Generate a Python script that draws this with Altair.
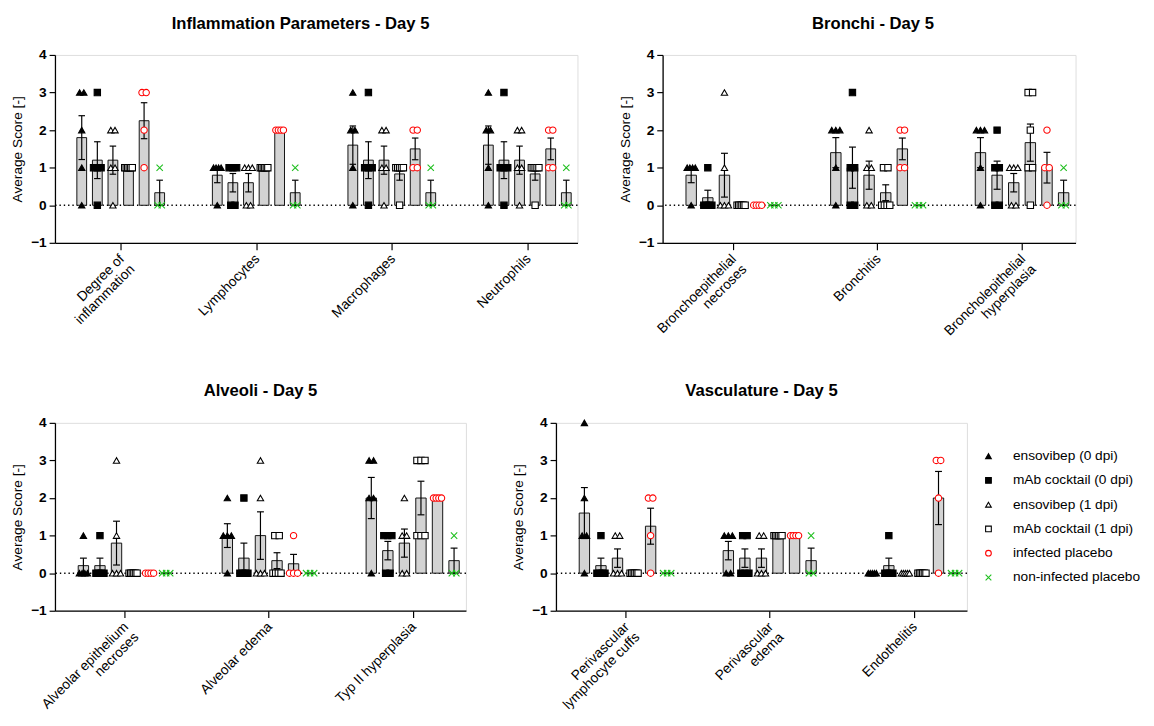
import altair as alt
import pandas as pd

FONT = "Liberation Sans"

groups = ["ensovibep (0 dpi)", "mAb cocktail (0 dpi)", "ensovibep (1 dpi)",
          "mAb cocktail (1 dpi)", "infected placebo", "non-infected placebo"]
group_shapes = ["triangle-up", "square", "triangle-up", "square", "circle",
                "M-1,-1L1,1M-1,1L1,-1"]
group_fills = ["black", "black", "white", "white", "white", "transparent"]
group_strokes = ["black", "black", "black", "black", "#ff0000", "#1fbf1f"]

# Individual scores per group, order: groups above
# Inflammation Parameters - Day 5
inflammation_categories = ["Degree of|inflammation", "Lymphocytes", "Macrophages", "Neutrophils"]
degree_of_inflammation = [[3, 3, 2, 1, 0], [3, 1, 1, 1, 0], [2, 2, 1, 1, 0], [1, 1, 1, 1, 1, 1], [3, 3, 2, 1], [1, 0, 0]]
lymphocytes = [[1, 1, 1, 1, 0], [1, 1, 1, 0, 0], [1, 1, 1, 0, 0], [1, 1, 1, 1, 1, 1], [2, 2, 2, 2], [1, 0, 0]]
macrophages = [[3, 2, 2, 1, 0], [3, 1, 1, 1, 0], [2, 2, 1, 1, 0], [1, 1, 1, 1, 1, 0], [2, 2, 1, 1], [1, 0, 0]]
neutrophils = [[3, 2, 2, 1, 0], [3, 1, 1, 1, 0], [2, 2, 1, 1, 0], [1, 1, 1, 1, 1, 0], [2, 2, 1, 1], [1, 0, 0]]

# Bronchi - Day 5
bronchi_categories = ["Bronchoepithelial|necroses", "Bronchitis", "Broncholepithelial|hyperplasia"]
bronchoepithelial_necroses = [[1, 1, 1, 1, 0], [1, 0, 0, 0, 0], [3, 1, 0, 0, 0], [0, 0, 0, 0, 0, 0], [0, 0, 0, 0], [0, 0, 0]]
bronchitis = [[2, 2, 2, 1, 0], [3, 1, 1, 0, 0], [2, 1, 1, 0, 0], [1, 1, 0, 0, 0, 0], [2, 2, 1, 1], [0, 0, 0]]
bronchoepithelial_hyperplasia = [[2, 2, 2, 1, 0], [2, 1, 1, 0, 0], [1, 1, 1, 0, 0], [3, 3, 2, 1, 1, 0], [2, 1, 1, 0], [1, 0, 0]]

# Alveoli - Day 5
alveoli_categories = ["Alveolar epithelium|necroses", "Alveolar edema", "Typ II hyperplasia"]
alveolar_epithelium_necroses = [[1, 0, 0, 0, 0], [1, 0, 0, 0, 0], [3, 1, 0, 0, 0], [0, 0, 0, 0, 0, 0], [0, 0, 0, 0], [0, 0, 0]]
alveolar_edema = [[2, 1, 1, 1, 0], [2, 0, 0, 0, 0], [3, 2, 0, 0, 0], [1, 1, 0, 0, 0, 0], [1, 0, 0, 0], [0, 0, 0]]
typ_ii_hyperplasia = [[3, 3, 2, 2, 0], [1, 1, 1, 0, 0], [2, 1, 1, 0, 0], [3, 3, 3, 1, 1, 1], [2, 2, 2, 2], [1, 0, 0]]

# Vasculature - Day 5
vasculature_categories = ["Perivascular|lymphocyte cuffs", "Perivascular|edema", "Endothelitis"]
perivascular_cuffs = [[4, 2, 1, 1, 0], [1, 0, 0, 0, 0], [1, 1, 0, 0, 0], [0, 0, 0, 0, 0, 0], [2, 2, 1, 0], [0, 0, 0]]
perivascular_edema = [[1, 1, 1, 0, 0], [1, 1, 0, 0, 0], [1, 1, 0, 0, 0], [1, 1, 1, 1, 1, 1], [1, 1, 1, 1], [1, 0, 0]]
endothelitis = [[0, 0, 0, 0, 0], [1, 0, 0, 0, 0], [0, 0, 0, 0, 0], [0, 0, 0, 0, 0, 0], [3, 3, 2, 0], [0, 0, 0]]

GROUP_STEP = 0.115   # spacing between bars of one category (category units)
BAR_HALF = 0.036
CAP_HALF = 0.024
DUP_STEP = 0.031
DUP_MAX = 0.056


def build_frames(series):
    rows = []
    for ci, per_group in enumerate(series):
        for gi, vals in enumerate(per_group):
            xc = ci + (gi - 2.5) * GROUP_STEP
            counts = {}
            for v in vals:
                counts[v] = counts.get(v, 0) + 1
            seen = {}
            for v in vals:
                k = counts[v]
                i = seen.get(v, 0)
                seen[v] = i + 1
                if k == 1:
                    off = 0.0
                else:
                    span = min((k - 1) * DUP_STEP, DUP_MAX)
                    off = -span / 2 + i * span / (k - 1)
                rows.append({"cat": ci, "gi": gi, "group": groups[gi], "xc": xc,
                             "xp": xc + off, "score": v})
    df = pd.DataFrame(rows)
    agg = df.groupby(["cat", "gi", "group", "xc"])["score"].agg(["mean", "sem"]).reset_index()
    agg["sem"] = agg["sem"].fillna(0)
    agg["lo"] = agg["mean"] - agg["sem"]
    agg["hi"] = agg["mean"] + agg["sem"]
    agg["base"] = 0.0
    agg["xl"] = agg["xc"] - BAR_HALF
    agg["xr"] = agg["xc"] + BAR_HALF
    agg["cl"] = agg["xc"] - CAP_HALF
    agg["cr"] = agg["xc"] + CAP_HALF
    return df, agg


def panel(title, categories, series, width, title_dx=0, show_legend=False):
    df, agg = build_frames(series)
    n = len(categories)
    names = ",".join("'" + c + "'" for c in categories)
    xscale = alt.Scale(domain=[-0.485, n - 1 + 0.37], nice=False, zero=False)
    xaxis = alt.Axis(values=list(range(n)), labelExpr=f"split([{names}][datum.value], '|')",
                     labelAngle=-45, labelAlign="right", labelBaseline="top",
                     labelFontSize=14, labelFont=FONT, labelColor="black",
                     tickSize=7, tickColor="black", tickWidth=1.2,
                     domainColor="black", domainWidth=1.3, grid=False, title=None,
                     labelPadding=2, labelLineHeight=15, labelOffset=-4)
    yscale = alt.Scale(domain=[-1, 4], nice=False, zero=False)
    yaxis = alt.Axis(values=[-1, 0, 1, 2, 3, 4], format="d", labelFontSize=14,
                     labelFontWeight="bold", labelFont=FONT, labelColor="black",
                     tickSize=6, tickColor="black", tickWidth=1.2,
                     domainColor="black", domainWidth=1.3, grid=False,
                     title="Average Score [-]", titleFont=FONT, titleFontSize=14,
                     titleFontWeight="normal", titleColor="black", titlePadding=6,
                     labelPadding=3)

    baseline = pd.DataFrame({"level": [0]})
    zero = alt.Chart(baseline).mark_rule(color="black", strokeWidth=1.6,
                                         strokeDash=[1.4, 3]).encode(
        y=alt.Y("level:Q", scale=yscale, axis=yaxis, title="Average Score [-]"))

    bars = alt.Chart(agg).mark_bar(fill="#d3d3d3", stroke="#111111", strokeWidth=1).encode(
        x=alt.X("xl:Q", scale=xscale, axis=xaxis, title=None),
        x2="xr:Q",
        y=alt.Y("mean:Q", scale=yscale, axis=yaxis, title="Average Score [-]"),
        y2="base:Q")

    eb = agg[agg["sem"] > 0]
    err = alt.Chart(eb).mark_rule(color="black", strokeWidth=1.2).encode(
        x=alt.X("xc:Q", scale=xscale, axis=xaxis, title=None),
        y=alt.Y("lo:Q", scale=yscale, axis=yaxis, title="Average Score [-]"),
        y2="hi:Q")
    cap_hi = alt.Chart(eb).mark_rule(color="black", strokeWidth=1.2).encode(
        x=alt.X("cl:Q", scale=xscale, axis=xaxis, title=None), x2="cr:Q",
        y=alt.Y("hi:Q", scale=yscale, axis=yaxis, title="Average Score [-]"))
    cap_lo = alt.Chart(eb).mark_rule(color="black", strokeWidth=1.2).encode(
        x=alt.X("cl:Q", scale=xscale, axis=xaxis, title=None), x2="cr:Q",
        y=alt.Y("lo:Q", scale=yscale, axis=yaxis, title="Average Score [-]"))

    if show_legend:
        leg = alt.Legend(orient="none", legendX=435, legendY=27, title=None,
                         labelFont=FONT, labelFontSize=14, labelColor="black",
                         symbolSize=34, symbolStrokeWidth=1.1, rowPadding=10.8,
                         labelOffset=18, padding=0)
    else:
        leg = None
    sort = groups
    points = alt.Chart(df).mark_point(size=42, strokeWidth=1.1, opacity=1).encode(
        x=alt.X("xp:Q", scale=xscale, axis=xaxis, title=None),
        y=alt.Y("score:Q", scale=yscale, axis=yaxis, title="Average Score [-]"),
        shape=alt.Shape("group:N", sort=sort, scale=alt.Scale(domain=groups, range=group_shapes), legend=leg),
        fill=alt.Fill("group:N", sort=sort, scale=alt.Scale(domain=groups, range=group_fills), legend=leg),
        stroke=alt.Stroke("group:N", sort=sort, scale=alt.Scale(domain=groups, range=group_strokes), legend=leg),
    )

    return alt.layer(zero, bars, err, cap_hi, cap_lo, points).properties(
        width=width, height=192,
        title=alt.TitleParams(title, font=FONT, fontSize=17, fontWeight="bold",
                              color="black", anchor="middle", offset=16, dx=title_dx))


tl = panel("Inflammation Parameters - Day 5", inflammation_categories,
           [degree_of_inflammation, lymphocytes, macrophages, neutrophils], 534, title_dx=-16)
tr = panel("Bronchi - Day 5", bronchi_categories,
           [bronchoepithelial_necroses, bronchitis, bronchoepithelial_hyperplasia], 422, title_dx=4)
bl = panel("Alveoli - Day 5", alveoli_categories,
           [alveolar_epithelium_necroses, alveolar_edema, typ_ii_hyperplasia], 420)
br = panel("Vasculature - Day 5", vasculature_categories,
           [perivascular_cuffs, perivascular_edema, endothelitis], 420, show_legend=True)

ind = dict(shape="independent", fill="independent", stroke="independent")
row1 = alt.hconcat(tl, tr, spacing=39).resolve_legend(**ind)
row2 = alt.hconcat(bl, br, spacing=44).resolve_legend(**ind)
chart = alt.vconcat(row1, row2, spacing=33).resolve_legend(**ind).properties(
    padding={"left": 2, "top": -2, "right": 5, "bottom": 5}
).configure_view(strokeWidth=0, stroke="transparent").configure(background="white")

chart.save("out.html", embed_options={"renderer": "svg", "actions": False})
